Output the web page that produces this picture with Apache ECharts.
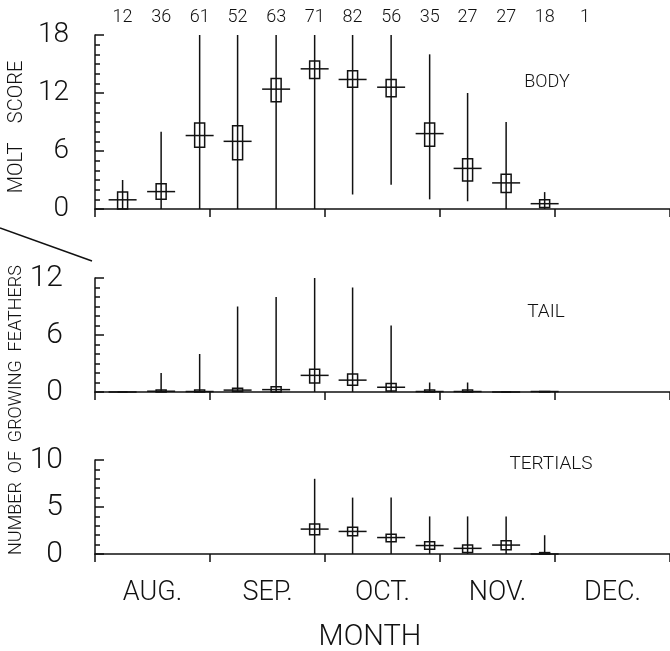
<!DOCTYPE html>
<html>
<head>
<meta charset="utf-8">
<script src="https://cdn.jsdelivr.net/npm/echarts@6/dist/echarts.min.js"></script>
<style>
  html, body { margin: 0; padding: 0; background: #fff; }
  #chart { width: 670px; height: 651px; }
</style>
</head>
<body>
<div id="chart"></div>
<script>
// Ten-day sampling periods, positioned in months from 1 August.
const binMonth = [0.24, 0.575, 0.91, 1.24, 1.575, 1.91, 2.24, 2.575, 2.91, 3.24, 3.575, 3.91, 4.26];
const sampleSize = [12, 36, 61, 52, 63, 71, 82, 56, 35, 27, 27, 18, 1];
const monthNames = ['AUG.', 'SEP.', 'OCT.', 'NOV.', 'DEC.'];

// Body molt score: mean, box (low/high) and range (min/max) per period.
const bodyMean = [0.95, 1.8, 7.6, 7.0, 12.4, 14.5, 13.4, 12.6, 7.8, 4.2, 2.7, 0.55, null];
const bodyLow  = [0.0, 1.0, 6.4, 5.1, 11.1, 13.5, 12.6, 11.6, 6.5, 2.9, 1.7, 0.15, null];
const bodyHigh = [1.75, 2.6, 8.9, 8.6, 13.5, 15.3, 14.3, 13.4, 8.9, 5.2, 3.6, 0.95, null];
const bodyMin  = [0, 0, 0, 0, 0, 0, 1.5, 2.5, 1.0, 0.8, 0, 0, null];
const bodyMax  = [3, 8, 18, 18, 18, 18, 18, 18, 16, 12, 9, 1.75, null];

// Growing tail feathers.
const tailMean = [0, 0.08, 0.05, 0.2, 0.25, 1.75, 1.25, 0.5, 0.05, 0.05, 0, 0.05, null];
const tailLow  = [0, 0, 0, 0.05, 0, 0.95, 0.7, 0.1, 0, 0, 0, 0, null];
const tailHigh = [0, 0.2, 0.2, 0.4, 0.55, 2.4, 1.9, 0.9, 0.2, 0.2, 0, 0.05, null];
const tailMin  = [0, 0, 0, 0, 0, 0, 0, 0, 0, 0, 0, 0, null];
const tailMax  = [0, 2, 4, 9, 10, 12, 11, 7, 1, 1, 0, 0, null];

// Growing tertials.
const tertMean = [null, null, null, null, null, 2.65, 2.4, 1.75, 0.9, 0.6, 0.95, 0.0, null];
const tertLow  = [null, null, null, null, null, 2.05, 1.95, 1.3, 0.5, 0.15, 0.45, 0, null];
const tertHigh = [null, null, null, null, null, 3.2, 2.85, 2.1, 1.3, 0.95, 1.4, 0.15, null];
const tertMin  = [null, null, null, null, null, 0, 0, 0, 0, 0, 0, 0, null];
const tertMax  = [null, null, null, null, null, 8, 6, 6, 4, 4, 4, 2, null];

const FONT = "Roboto, 'Liberation Sans', sans-serif";
const INK = '#111';

function rows(mean, low, high, min, max) {
  const out = [];
  for (let i = 0; i < binMonth.length; i++) {
    if (mean[i] == null) continue;
    out.push([binMonth[i], mean[i], low[i], high[i], min[i], max[i]]);
  }
  return out;
}

// Range line, box and mean bar for one period.
function renderBox(params, api) {
  const x = api.value(0);
  const pMean = api.coord([x, api.value(1)]);
  const pLow = api.coord([x, api.value(2)]);
  const pHigh = api.coord([x, api.value(3)]);
  const pMin = api.coord([x, api.value(4)]);
  const pMax = api.coord([x, api.value(5)]);
  const cx = pMean[0];
  const st = { stroke: INK, lineWidth: 1.5, fill: null };
  return {
    type: 'group',
    children: [
      { type: 'line', shape: { x1: cx, y1: pMin[1], x2: cx, y2: pMax[1] }, style: st },
      { type: 'rect', shape: { x: cx - 5, y: pHigh[1], width: 10, height: pLow[1] - pHigh[1] }, style: { stroke: INK, lineWidth: 1.5, fill: 'none' } },
      { type: 'line', shape: { x1: cx - 14, y1: pMean[1], x2: cx + 14, y2: pMean[1] }, style: st }
    ]
  };
}

function renderCount(params, api) {
  const p = api.coord([api.value(0), 18]);
  return {
    type: 'text',
    style: {
      text: String(api.value(1)), x: p[0], y: p[1] - 18,
      align: 'center', verticalAlign: 'middle',
      font: '300 18px ' + FONT, fill: INK
    }
  };
}

const grids = [
  { left: 95, width: 576, top: 35, height: 174 },
  { left: 95, width: 576, top: 278, height: 114 },
  { left: 95, width: 576, top: 460, height: 94 }
];

function xAxisFor(i, offset, withLabels) {
  return {
    type: 'value', gridIndex: i, min: 0, max: 5, offset: offset,
    position: 'bottom',
    axisLine: { show: true, lineStyle: { color: INK, width: 1.5 } },
    axisTick: { show: true, inside: false, length: 8, customValues: [0, 1, 2, 3, 4, 5], lineStyle: { color: INK, width: 1.5 } },
    splitLine: { show: false },
    axisLabel: withLabels ? {
      show: true, customValues: [0.5, 1.5, 2.5, 3.5, 4.5], margin: 14,
      formatter: v => monthNames[Math.floor(v)],
      fontFamily: FONT, fontWeight: 300, fontSize: 27, color: INK
    } : { show: false }
  };
}

function yAxisFor(i, max, interval, offset, fontSize) {
  return {
    type: 'value', gridIndex: i, min: 0, max: max, interval: interval, offset: offset,
    axisLine: { show: true, lineStyle: { color: INK, width: 1.5 } },
    axisTick: { show: true, inside: true, length: 9, lineStyle: { color: INK, width: 1.5 } },
    minorTick: { show: true, splitNumber: interval, length: 5, lineStyle: { color: INK, width: 1.5 } },
    splitLine: { show: false },
    minorSplitLine: { show: false },
    axisLabel: { margin: 9, fontFamily: FONT, fontWeight: 300, fontSize: fontSize, color: INK }
  };
}

const chart = echarts.init(document.getElementById('chart'), null, { renderer: 'canvas' });

chart.setOption({
  backgroundColor: '#fff',
  animation: false,
  grid: grids,
  xAxis: [xAxisFor(0, 11, false), xAxisFor(1, 11, false), xAxisFor(2, 12, true)],
  yAxis: [yAxisFor(0, 18, 6, 17, 28), yAxisFor(1, 12, 6, 23, 30), yAxisFor(2, 10, 5, 23, 30)],
  series: [
    { type: 'custom', xAxisIndex: 0, yAxisIndex: 0, renderItem: renderBox, data: rows(bodyMean, bodyLow, bodyHigh, bodyMin, bodyMax) },
    { type: 'custom', xAxisIndex: 1, yAxisIndex: 1, renderItem: renderBox, data: rows(tailMean, tailLow, tailHigh, tailMin, tailMax) },
    { type: 'custom', xAxisIndex: 2, yAxisIndex: 2, renderItem: renderBox, data: rows(tertMean, tertLow, tertHigh, tertMin, tertMax) },
    { type: 'custom', xAxisIndex: 0, yAxisIndex: 0, renderItem: renderCount, data: binMonth.map((m, i) => [m, sampleSize[i]]) }
  ],
  graphic: [
    { type: 'text', x: 547, y: 82, style: { text: 'BODY', font: '300 18px ' + FONT, fill: INK, align: 'center', verticalAlign: 'middle' } },
    { type: 'text', x: 546, y: 312, style: { text: 'TAIL', font: '300 19px ' + FONT, fill: INK, align: 'center', verticalAlign: 'middle' } },
    { type: 'text', x: 551, y: 464, style: { text: 'TERTIALS', font: '300 19px ' + FONT, fill: INK, align: 'center', verticalAlign: 'middle' } },
    { type: 'text', x: 17, y: 127, rotation: Math.PI / 2, style: { text: 'MOLT    SCORE', font: '300 20px ' + FONT, fill: INK, align: 'center', verticalAlign: 'middle' } },
    { type: 'text', x: 16, y: 410, rotation: Math.PI / 2, style: { text: 'NUMBER  OF  GROWING  FEATHERS', font: '300 18px ' + FONT, fill: INK, align: 'center', verticalAlign: 'middle' } },
    { type: 'text', x: 370, y: 638, style: { text: 'MONTH', font: '300 29px ' + FONT, fill: INK, align: 'center', verticalAlign: 'middle' } },
    { type: 'line', shape: { x1: 0, y1: 228, x2: 92, y2: 261 }, style: { stroke: INK, lineWidth: 1.5 } }
  ]
});
</script>
</body>
</html>
